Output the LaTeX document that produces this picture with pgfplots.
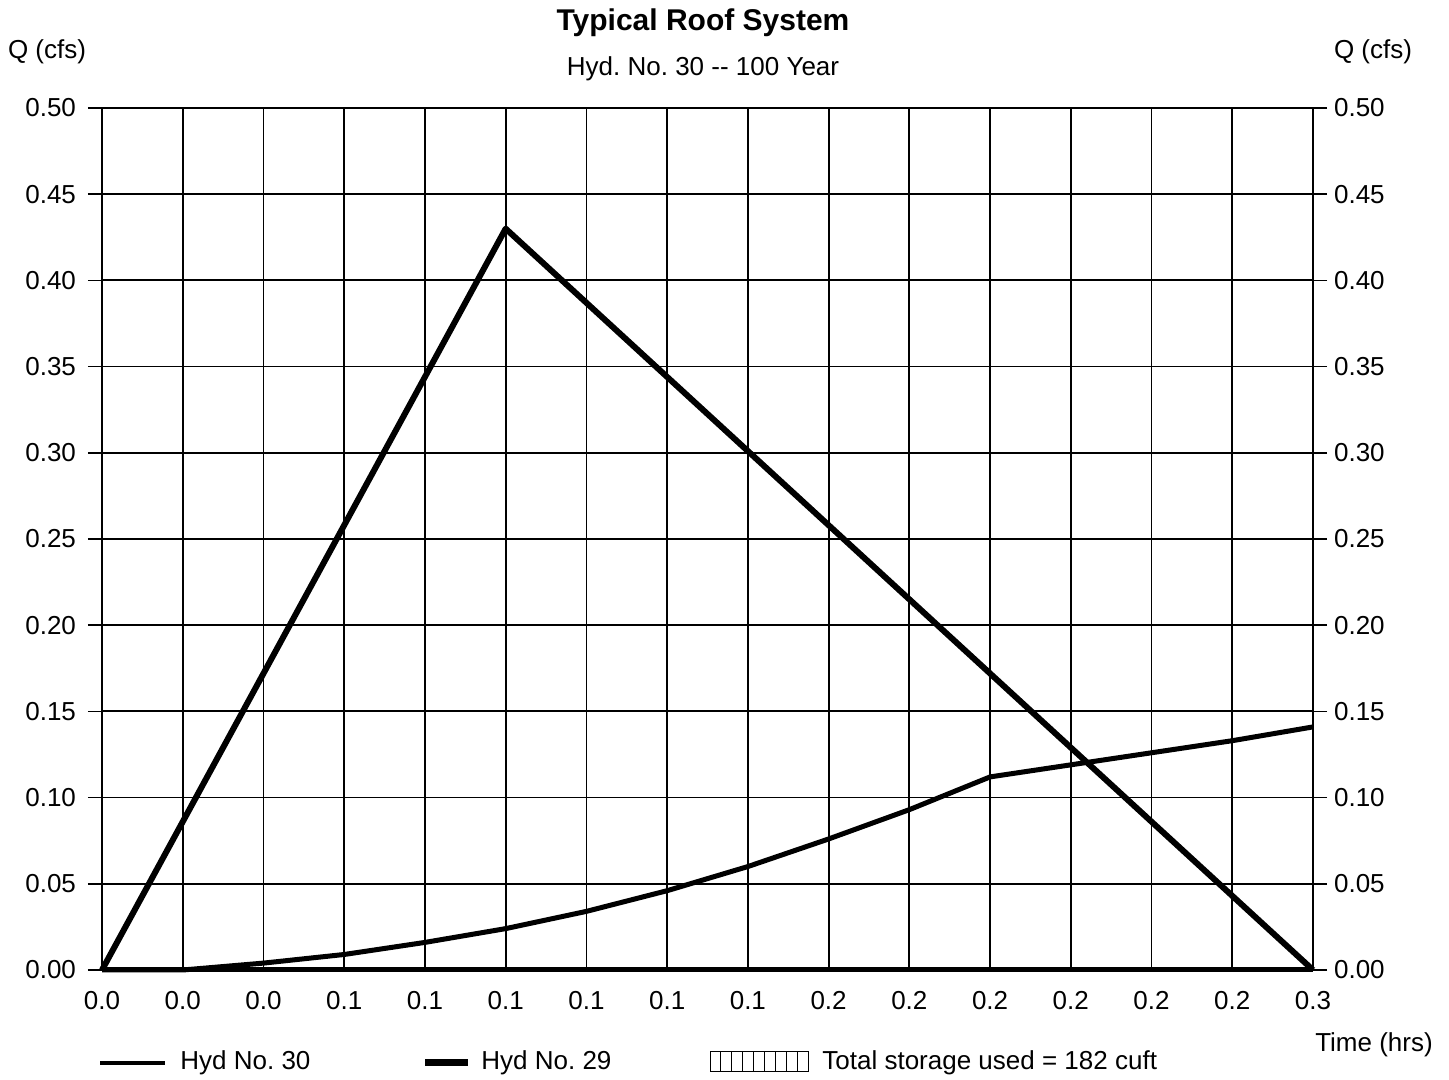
\documentclass[border=0pt]{standalone}
\usepackage{pgfplots}
\pgfplotsset{compat=1.18}
\usepackage{fontspec}
\setmainfont{Liberation Sans}
\frenchspacing

% flow hydrographs, x = minute index (0..15), labels in hours
\pgfplotstableread{
x  q
0  0.000
1  0.086
2  0.172
3  0.258
4  0.344
5  0.430
6  0.387
7  0.344
8  0.301
9  0.258
10 0.215
11 0.172
12 0.129
13 0.086
14 0.043
15 0.000
}\hydtwentynine

\pgfplotstableread{
x  q
0  0.000
1  0.000
2  0.004
3  0.009
4  0.016
5  0.024
6  0.034
7  0.046
8  0.060
9  0.076
10 0.093
11 0.112
12 0.119
13 0.126
14 0.133
15 0.141
}\hydthirty

\pgfplotsset{
  roofaxis/.style={
    scale only axis,
    width=605.5pt, height=431pt,
    at={(51pt,55pt)}, anchor=south west,
    xmin=0, xmax=15, ymin=0, ymax=0.5,
    ytick={0,0.05,...,0.51},
    tick align=outside,
    major tick length=7pt,
    every tick/.style={black, line width=0.8pt},
    tick label style={font=\fontsize{13}{15}\selectfont},
    /pgf/number format/assume math mode=true,
    /pgf/number format/.cd, fixed, fixed zerofill, precision=2, /pgfplots/.cd,
  },
}

\begin{document}
\begin{tikzpicture}[font=\fontsize{13}{15}\selectfont]
\path[use as bounding box] (0,0) rectangle (724.5pt,540pt);

\begin{axis}[
  roofaxis,
  clip=false,
  axis line style={black, line width=0.8pt},
  grid=major,
  major grid style={black, line width=0.9pt},
  xtick={0,...,15},
  xticklabels={0.0,0.0,0.0,0.1,0.1,0.1,0.1,0.1,0.1,0.2,0.2,0.2,0.2,0.2,0.2,0.3},
  xtick style={draw=none},
  ytick pos=both,
  yticklabel pos=left,
  yticklabel style={xshift=-2.5pt},
]
\addplot[black, line width=2.5pt] coordinates {(0,0) (15,0)};
\addplot[black, line width=3pt, line join=round] table[x=x, y=q] {\hydtwentynine};
\addplot[black, line width=2.5pt, line join=round] table[x=x, y=q] {\hydthirty};
\end{axis}

\begin{axis}[
  roofaxis,
  hide x axis,
  axis y line*=right,
  y axis line style={draw=none},
  ytick style={draw=none},
]
\addplot[draw=none] coordinates {(0,0)};
\end{axis}

% titles and axis captions
\node at (351.5pt,528.5pt) {\fontsize{15}{18}\selectfont\bfseries Typical Roof System};
\node at (351.5pt,505.5pt) {Hyd. No. 30 {-}{-} 100 Year};
\node at (23.5pt,514pt) {Q (cfs)};
\node at (686.5pt,514pt) {Q (cfs)};
\node at (687pt,17.5pt) {Time (hrs)};

% legend
\draw[black, line width=2pt] (50pt,8.5pt) -- (82.5pt,8.5pt);
\node[anchor=west, inner sep=0pt] at (90pt,8.5pt) {Hyd No. 30};
\draw[black, line width=3.5pt] (212.5pt,8.5pt) -- (234pt,8.5pt);
\node[anchor=west, inner sep=0pt] at (240.5pt,8.5pt) {Hyd No. 29};
\draw[black, line width=0.5pt] (355pt,4pt) rectangle (404pt,14pt);
\foreach \i in {1,...,8} {\draw[black, line width=0.5pt] (355pt+\i*5.444pt,4pt) -- (355pt+\i*5.444pt,14pt);}
\node[anchor=west, inner sep=0pt] at (411pt,8.5pt) {Total storage used = 182 cuft};
\end{tikzpicture}
\end{document}
